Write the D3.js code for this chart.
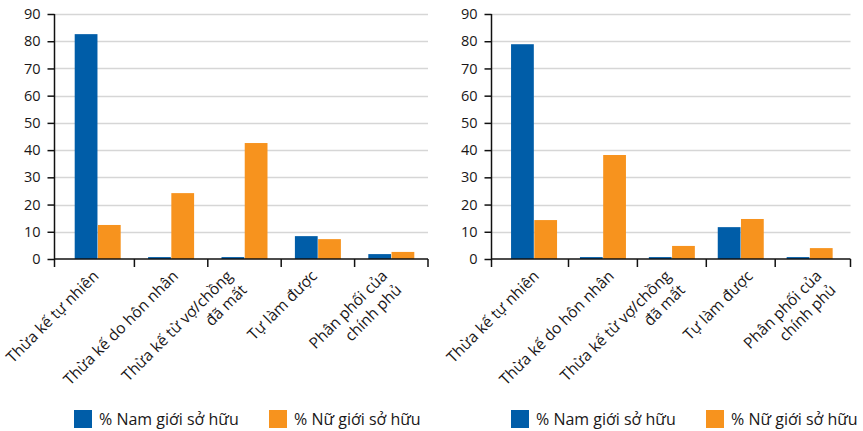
<!DOCTYPE html>
<html>
<head>
<meta charset="utf-8">
<script src="https://cdn.jsdelivr.net/npm/d3@7"></script>
<style>
  html, body { margin: 0; padding: 0; background: #fff; }
  svg { display: block; font-family: "Open Sans", "Noto Sans", sans-serif; }
</style>
</head>
<body>
<svg id="chart" width="863" height="431"></svg>
<script>
// Categories (lines of each label)
const categories = [
  ["Thừa kế tự nhiên"],
  ["Thừa kế do hôn nhân"],
  ["Thừa kế từ vợ/chồng", "đã mất"],
  ["Tự làm được"],
  ["Phân phối của", "chính phủ"]
];
const seriesNames = ["% Nam giới sở hữu", "% Nữ giới sở hữu"];
const seriesColors = ["#005DA8", "#F7931E"];

// Left panel values
const maleLeft   = [82.6, 0.7, 0.7, 8.4, 1.8];
const femaleLeft = [12.5, 24.2, 42.6, 7.3, 2.6];
// Right panel values
const maleRight   = [78.9, 0.7, 0.7, 11.7, 0.7];
const femaleRight = [14.3, 38.2, 4.8, 14.7, 4.0];

const yTicks = [0, 10, 20, 30, 40, 50, 60, 70, 80, 90];

const svg = d3.select("#chart");

// Panel layout: axis position, plot extent, label nudges, legend positions
const panels = [
  { male: maleLeft, female: femaleLeft, axisX: 54.5, endX: 428, band: [61, 428],
    labelShift: [2, 8, -11, 0, -3], legendX: [74, 269] },
  { male: maleRight, female: femaleRight, axisX: 491.5, endX: 850.5, band: [499.6, 844.1],
    labelShift: [6, 12, 0, 13, 13], legendX: [511, 706] }
];

const y = d3.scaleLinear().domain([0, 90]).range([259, 14]);
const barW = 23;

panels.forEach(p => {
  const g = svg.append("g");
  const keys = categories.map(c => c.join(" "));
  const x = d3.scaleBand().domain(keys).range(p.band).padding(0);
  const xs = d3.scaleBand().domain(seriesNames).range([-barW, barW]).paddingInner(0.02);

  // gridlines
  g.append("g").selectAll("line")
    .data(yTicks.filter(t => t > 0))
    .join("line")
    .attr("x1", p.axisX).attr("x2", p.endX)
    .attr("y1", d => Math.round(y(d)) + 0.5).attr("y2", d => Math.round(y(d)) + 0.5)
    .attr("stroke", "#d6d6d6").attr("stroke-width", 1.5);

  // bars
  const rows = keys.map((k, i) => ({ key: k, vals: [p.male[i], p.female[i]] }));
  g.append("g").selectAll("g")
    .data(rows)
    .join("g")
    .attr("transform", d => `translate(${x(d.key) + x.bandwidth() / 2},0)`)
    .selectAll("rect")
    .data(d => d.vals.map((v, j) => ({ v, s: seriesNames[j], j })))
    .join("rect")
    .attr("x", d => xs(d.s))
    .attr("width", xs.bandwidth())
    .attr("y", d => y(d.v))
    .attr("height", d => y(0) - y(d.v))
    .attr("fill", d => seriesColors[d.j]);

  // y axis
  const yAxis = d3.axisLeft(y).tickValues(yTicks).tickSize(7).tickPadding(7);
  const ya = g.append("g").attr("transform", `translate(${p.axisX},0)`).call(yAxis);
  ya.select(".domain").remove();
  ya.selectAll(".tick line").attr("stroke", "#111").attr("stroke-width", 1.5);
  ya.selectAll(".tick text").attr("fill", "#1a1718").style("font-size", "14.5px")
    .style("font-family", "'Open Sans', sans-serif");
  g.append("line")
    .attr("x1", p.axisX).attr("x2", p.axisX)
    .attr("y1", y(90)).attr("y2", y(0) + 8)
    .attr("stroke", "#111").attr("stroke-width", 1.5);

  // x axis line and ticks at category boundaries
  g.append("line")
    .attr("x1", p.axisX).attr("x2", p.endX)
    .attr("y1", y(0)).attr("y2", y(0))
    .attr("stroke", "#111").attr("stroke-width", 1.5);
  const bounds = keys.slice(1).map(k => x(k)).concat([p.endX]);
  g.append("g").selectAll("line")
    .data(bounds)
    .join("line")
    .attr("x1", d => d).attr("x2", d => d)
    .attr("y1", y(0)).attr("y2", y(0) + 8)
    .attr("stroke", "#111").attr("stroke-width", 1.5);

  // rotated category labels
  g.append("g").selectAll("text")
    .data(categories)
    .join("text")
    .attr("transform", (d, i) => `translate(${x(keys[i]) + x.bandwidth() / 2 + p.labelShift[i]},277) rotate(-45)`)
    .attr("text-anchor", "end")
    .attr("fill", "#1a1718")
    .style("font-size", "15.5px")
    .selectAll("tspan")
    .data(d => d)
    .join("tspan")
    .attr("x", 0)
    .attr("dy", (d, i) => i === 0 ? 0 : 20)
    .text(d => d);

  // legend
  const lg = g.append("g").selectAll("g")
    .data(seriesNames)
    .join("g")
    .attr("transform", (d, i) => `translate(${p.legendX[i]},410)`);
  lg.append("rect").attr("width", 18).attr("height", 18).attr("fill", (d, i) => seriesColors[i]);
  lg.append("text").attr("x", 25).attr("y", 14.5)
    .attr("fill", "#1a1718").style("font-size", "16px")
    .text(d => d);
});
</script>
</body>
</html>
